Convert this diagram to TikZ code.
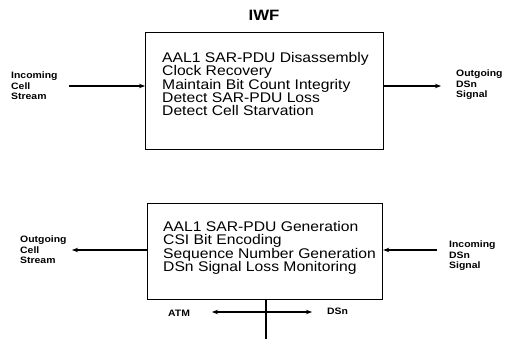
\documentclass[tikz,border=0pt]{standalone}
\usepackage{fontspec}
\setmainfont{Liberation Sans}
\newfontfamily\wideface[FakeStretch=1.12]{Liberation Sans}
\usetikzlibrary{arrows.meta}
\begin{document}
\begin{tikzpicture}[x=1pt,y=-1pt,
  box/.style={draw,line width=1.2pt,inner sep=0pt},
  func/.style={anchor=north west,align=left,font=\wideface\fontsize{14}{13.4}\selectfont,inner sep=0pt},
  lbl/.style={align=left,font=\wideface\bfseries\fontsize{9.3}{10.6}\selectfont,inner sep=0pt},
  conn/.style={line width=1.2pt,-{Stealth[length=6pt,width=4.5pt]}}]
\useasboundingbox (0,0) rectangle (509,339);
\node[font=\wideface\bfseries\fontsize{15}{17}\selectfont] (iwf) at (264,15) {IWF};
\node[box,minimum width=238pt,minimum height=117pt,anchor=north west] (top) at (145,32) {};
\node[func] (toptext) at (162,52) {AAL1 SAR-PDU Disassembly\\Clock Recovery\\Maintain Bit Count Integrity\\Detect SAR-PDU Loss\\Detect Cell Starvation};
\node[lbl,anchor=west] (inc) at (11,86) {Incoming\\Cell\\Stream};
\node[lbl,anchor=west] (outd) at (456,85) {Outgoing\\DSn\\Signal};
\coordinate (a1) at (69,86);
\coordinate (a2) at (441,86);
\draw[conn] (a1) -- (a1 -| top.west);
\draw[conn] (a2 -| top.east) -- (a2);

\node[box,minimum width=235pt,minimum height=96pt,anchor=north west] (bot) at (147,203) {};
\node[func] (bottext) at (163,221) {AAL1 SAR-PDU Generation\\CSI Bit Encoding\\Sequence Number Generation\\DSn Signal Loss Monitoring};
\node[lbl,anchor=west] (outc) at (20,250) {Outgoing\\Cell\\Stream};
\node[lbl,anchor=west] (incd) at (449,256) {Incoming\\DSn\\Signal};
\coordinate (b1) at (72,250);
\coordinate (b2) at (437,250);
\draw[conn] (b1 -| bot.west) -- (b1);
\draw[conn] (b2) -- (b2 -| bot.east);

\coordinate (vb) at (266,339);
\draw[line width=1.2pt] (bot.south -| vb) -- (vb);
\node[lbl,anchor=west] (atm) at (168,313) {ATM};
\node[lbl,anchor=west] (dsn) at (327,311) {DSn};
\coordinate (h1) at (212,312);
\coordinate (h2) at (312,312);
\draw[line width=1.2pt,{Stealth[length=6pt,width=4.5pt]}-{Stealth[length=6pt,width=4.5pt]}] (h1) -- (h2);
\end{tikzpicture}
\end{document}
